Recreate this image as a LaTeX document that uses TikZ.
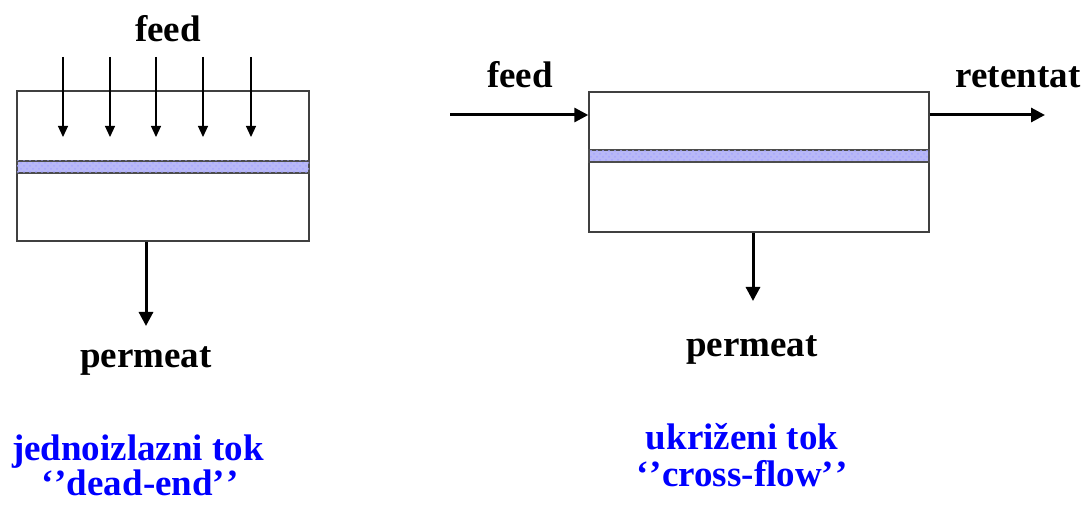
\documentclass[tikz,border=0pt]{standalone}
\usepackage{fontspec}
\setmainfont{Liberation Serif}
\usetikzlibrary{arrows.meta,positioning,patterns}
\definecolor{memblue}{RGB}{184,184,246}
\newcommand{\qq}{’\kern0.6pt’}

\begin{document}
\begin{tikzpicture}[x=0.5pt, y=-0.5pt,
  font=\fontsize{18.5}{20}\selectfont\bfseries,
  cell/.style={draw=black!75, line width=0.7pt, inner sep=0pt},
  membrane/.style={draw=black!70, line width=0.6pt, fill=memblue, inner sep=0pt, minimum height=6pt,
    postaction={pattern=crosshatch dots, pattern color=blue!35}},
  flow/.style={-{Triangle[length=7pt,width=7pt]}, line width=1.5pt},
  thinflow/.style={-{Triangle[length=5.5pt,width=5pt]}, line width=0.6pt},
  tag/.style={anchor=base, inner sep=0pt},
  caption/.style={anchor=base, inner sep=0pt, text=blue}]
\useasboundingbox (0,0) rectangle (1084,508);

% dead-end
\node[cell, minimum width=146pt, minimum height=75pt] (deBox) at (163,166) {};
\node[membrane, minimum width=146pt] (deMem) at (163,167) {};
\node[tag] (deFeed) at (168,42) {feed};
\foreach \x in {63,110,156,203,251}
  \draw[thinflow] (\x,57) -- (\x,137);
\coordinate (dePerm) at (146,326);
\draw[flow] (deBox.south -| dePerm) -- (dePerm);
\node[tag] (dePermLbl) at (146,368) {permeat};
\node[caption] (deName) at (138,460) {jednoizlazni tok};
\node[caption] (deType) at (140,495) {‘\kern0.6pt’dead-end\qq};

% cross-flow
\node[cell, minimum width=170pt, minimum height=70pt] (cfBox) at (759,162) {};
\node[membrane, minimum width=170pt] (cfMem) at (759,156) {};
\coordinate (cfIn) at (450,115);
\coordinate (cfOut) at (1045,115);
\draw[flow] (cfIn) -- (cfIn -| cfBox.west);
\draw[flow] (cfIn -| cfBox.east) -- (cfOut);
\node[tag] (cfFeed) at (520,88) {feed};
\node[tag] (cfRet) at (1018,88) {retentat};
\coordinate (cfPerm) at (753,301);
\draw[flow] (cfBox.south -| cfPerm) -- (cfPerm);
\node[tag] (cfPermLbl) at (752,357) {permeat};
\node[caption] (cfName) at (742,450) {ukriženi tok};
\node[caption] (cfType) at (742,487) {‘\kern0.6pt’cross-flow\qq};
\end{tikzpicture}
\end{document}
